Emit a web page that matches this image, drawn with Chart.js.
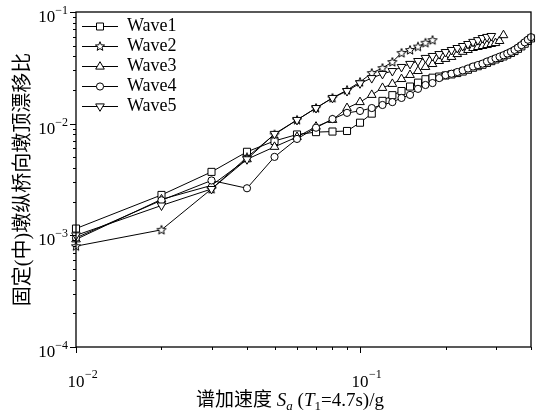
<!DOCTYPE html>
<html>
<head>
<meta charset="utf-8">
<script src="https://cdn.jsdelivr.net/npm/chart.js@4.4.1/dist/chart.umd.min.js"></script>
<style>
  html, body { margin: 0; padding: 0; background: #fff; }
</style>
</head>
<body>
<canvas id="chart" width="537" height="416"></canvas>
<script>
// Sa values (g) shared by all records
const saValues = [0.01, 0.02, 0.03, 0.04, 0.05, 0.06, 0.07, 0.08, 0.09, 0.10,
                  0.11, 0.12, 0.13, 0.14, 0.15, 0.16, 0.17, 0.18, 0.19, 0.20,
                  0.21, 0.22, 0.23, 0.24, 0.25, 0.26, 0.27, 0.28, 0.29, 0.30,
                  0.31, 0.32, 0.33, 0.34, 0.35, 0.36, 0.37, 0.38, 0.39, 0.40];

// drift ratio per record
const wave1 = [1.15e-3, 2.3e-3, 3.7e-3, 5.6e-3, 7.0e-3, 8.0e-3, 8.4e-3, 8.5e-3, 8.6e-3, 1.02e-2,
               1.23e-2, 1.6e-2, 1.8e-2, 1.96e-2, 2.15e-2, 2.33e-2, 2.5e-2, 2.58e-2, 2.64e-2, 2.7e-2,
               2.76e-2, 2.84e-2, 2.93e-2, 3.04e-2, 3.17e-2, 3.27e-2, 3.37e-2, 3.5e-2, 3.63e-2, 3.76e-2,
               3.88e-2, 4.0e-2, 4.15e-2, 4.3e-2, 4.47e-2, 4.68e-2, 4.92e-2, 5.2e-2, 5.5e-2, 5.8e-2];
const wave2 = [0.8e-3, 1.12e-3, 2.6e-3, 5.0e-3, 8.0e-3, 1.08e-2, 1.38e-2, 1.7e-2, 2.0e-2, 2.36e-2,
               2.84e-2, 3.15e-2, 3.57e-2, 4.3e-2, 4.57e-2, 4.9e-2, 5.3e-2, 5.6e-2];
const wave3 = [0.92e-3, 2.1e-3, 2.8e-3, 4.8e-3, 6.2e-3, 7.6e-3, 9.4e-3, 1.08e-2, 1.38e-2, 1.56e-2,
               1.81e-2, 2.09e-2, 2.27e-2, 2.51e-2, 2.73e-2, 2.96e-2, 3.22e-2, 3.42e-2, 3.64e-2, 3.8e-2,
               3.96e-2, 4.2e-2, 4.4e-2, 4.57e-2, 4.76e-2, 4.86e-2, 4.96e-2, 5.06e-2, 5.17e-2, 5.27e-2,
               5.5e-2, 6.2e-2];
const wave4 = [0.95e-3, 2.06e-3, 3.1e-3, 2.64e-3, 5.04e-3, 7.3e-3, 9.2e-3, 1.1e-2, 1.25e-2, 1.3e-2,
               1.38e-2, 1.47e-2, 1.56e-2, 1.7e-2, 1.81e-2, 2.05e-2, 2.22e-2, 2.31e-2, 2.56e-2, 2.72e-2,
               2.8e-2, 2.9e-2, 3.0e-2, 3.12e-2, 3.25e-2, 3.35e-2, 3.45e-2, 3.6e-2, 3.72e-2, 3.85e-2,
               3.98e-2, 4.1e-2, 4.25e-2, 4.4e-2, 4.58e-2, 4.8e-2, 5.05e-2, 5.35e-2, 5.65e-2, 5.95e-2];
const wave5 = [1.0e-3, 1.85e-3, 2.6e-3, 4.8e-3, 8.1e-3, 1.08e-2, 1.38e-2, 1.7e-2, 1.96e-2, 2.3e-2,
               2.56e-2, 2.79e-2, 2.96e-2, 3.22e-2, 3.43e-2, 3.64e-2, 3.88e-2, 4.04e-2, 4.2e-2, 4.38e-2,
               4.57e-2, 4.76e-2, 4.96e-2, 5.17e-2, 5.4e-2, 5.6e-2, 5.85e-2, 5.98e-2, 6.1e-2];

const seriesNames = ['Wave1', 'Wave2', 'Wave3', 'Wave4', 'Wave5'];
const seriesMarkers = ['square', 'star', 'triangle', 'circle', 'triangleDown'];

// decade tick labels (10 with exponent)
const xDecades = [0.01, 0.1];
const xDecadeExps = ['\u22122', '\u22121'];
const yDecades = [1e-4, 1e-3, 1e-2, 1e-1];
const yDecadeExps = ['\u22124', '\u22123', '\u22122', '\u22121'];

const yTitle = '固定(中)墩纵桥向墩顶漂移比';
const xTitleCn = '谱加速度 ';

const SERIF = '"Liberation Serif", "Times New Roman", serif';
const CJK = '"Liberation Serif", "Noto Sans CJK SC", sans-serif';

function drawMarker(ctx, kind, cx, cy) {
    ctx.beginPath();
    if (kind === 'square') {
        ctx.rect(cx - 3.5, cy - 3.5, 7, 7);
    } else if (kind === 'circle') {
        ctx.arc(cx, cy, 3.6, 0, Math.PI * 2);
    } else if (kind === 'triangle') {
        ctx.moveTo(cx, cy - 4.8);
        ctx.lineTo(cx + 4.3, cy + 2.6);
        ctx.lineTo(cx - 4.3, cy + 2.6);
        ctx.closePath();
    } else if (kind === 'triangleDown') {
        ctx.moveTo(cx, cy + 4.8);
        ctx.lineTo(cx + 4.3, cy - 2.6);
        ctx.lineTo(cx - 4.3, cy - 2.6);
        ctx.closePath();
    } else if (kind === 'star') {
        for (let i = 0; i < 10; i++) {
            const r = i % 2 === 0 ? 4.8 : 2.1;
            const ang = -Math.PI / 2 + i * Math.PI / 5;
            const px = cx + r * Math.cos(ang);
            const py = cy + r * Math.sin(ang);
            if (i === 0) ctx.moveTo(px, py); else ctx.lineTo(px, py);
        }
        ctx.closePath();
    }
    ctx.fillStyle = '#fff';
    ctx.fill();
    ctx.strokeStyle = '#000';
    ctx.lineWidth = 1;
    ctx.stroke();
}

function makeStar() {
    const c = document.createElement('canvas');
    c.width = 12;
    c.height = 12;
    drawMarker(c.getContext('2d'), 'star', 6, 6.3);
    return c;
}

function makeLegendIcon(kind) {
    const c = document.createElement('canvas');
    c.width = 40;
    c.height = 14;
    const g = c.getContext('2d');
    g.strokeStyle = '#000';
    g.lineWidth = 1;
    g.beginPath();
    g.moveTo(4, 7.5);
    g.lineTo(40, 7.5);
    g.stroke();
    drawMarker(g, kind, 22, 7.5);
    return c;
}

// Chart.js point styles for each marker kind
const pointStyles = {
    square: { style: 'rect', radius: 5, rotation: 0 },
    circle: { style: 'circle', radius: 3.6, rotation: 0 },
    triangle: { style: 'triangle', radius: 5, rotation: 0 },
    triangleDown: { style: 'triangle', radius: 5, rotation: 180 },
    star: { style: makeStar(), radius: 5, rotation: 0 },
};

const allWaves = [wave1, wave2, wave3, wave4, wave5];
const legendIcons = seriesMarkers.map(makeLegendIcon);

const datasets = allWaves.map((vals, i) => {
    const ps = pointStyles[seriesMarkers[i]];
    return {
        label: seriesNames[i],
        data: vals.map((v, j) => ({ x: saValues[j], y: v })),
        borderColor: '#000',
        borderWidth: 1,
        backgroundColor: '#fff',
        pointBackgroundColor: '#fff',
        pointBorderColor: '#000',
        pointBorderWidth: 1,
        pointStyle: ps.style,
        pointRadius: ps.radius,
        pointRotation: ps.rotation,
        tension: 0,
        clip: false,
        order: 5 - i,
    };
});

// axes box, outward ticks, decade labels and titles
const axesDecor = {
    id: 'axesDecor',
    afterDraw(chart) {
        const { ctx, chartArea: a, scales: { x, y } } = chart;
        ctx.save();
        ctx.strokeStyle = '#000';
        ctx.lineWidth = 1.3;
        ctx.strokeRect(a.left, a.top, a.right - a.left, a.bottom - a.top);

        ctx.lineWidth = 1;
        ctx.beginPath();
        for (let e = -4; e <= -1; e++) {
            for (let k = 1; k <= 9; k++) {
                const v = k * Math.pow(10, e);
                if (v > y.max * 1.0001) break;
                const py = Math.round(y.getPixelForValue(v)) + 0.5;
                const len = k === 1 ? 6 : 3;
                ctx.moveTo(a.left - len, py);
                ctx.lineTo(a.left, py);
            }
        }
        for (let e = -2; e <= -1; e++) {
            for (let k = 1; k <= 9; k++) {
                const v = k * Math.pow(10, e);
                if (v > x.max * 1.0001) break;
                const px = Math.round(x.getPixelForValue(v)) + 0.5;
                const len = k === 1 ? 6 : 3;
                ctx.moveTo(px, a.bottom);
                ctx.lineTo(px, a.bottom + len);
            }
        }
        ctx.stroke();

        ctx.fillStyle = '#000';
        ctx.textBaseline = 'alphabetic';
        yDecades.forEach((v, i) => {
            const py = y.getPixelForValue(v);
            ctx.font = '12px ' + SERIF;
            const ew = ctx.measureText(yDecadeExps[i]).width;
            const ex = a.left - 8 - ew;
            ctx.textAlign = 'left';
            ctx.fillText(yDecadeExps[i], ex, py + 2);
            ctx.font = '17px ' + SERIF;
            ctx.textAlign = 'right';
            ctx.fillText('10', ex, py + 10);
        });
        xDecades.forEach((v, i) => {
            const px = x.getPixelForValue(v);
            ctx.font = '17px ' + SERIF;
            ctx.textAlign = 'center';
            ctx.fillText('10', px, a.bottom + 40);
            ctx.font = '12px ' + SERIF;
            ctx.textAlign = 'left';
            ctx.fillText(xDecadeExps[i], px + 9, a.bottom + 31);
        });

        // x title: 谱加速度 Sa (T1=4.7s)/g
        const parts = [
            { t: xTitleCn, f: '19px ' + CJK, dy: 0 },
            { t: 'S', f: 'italic 19px ' + SERIF, dy: 0 },
            { t: 'a', f: 'italic 13px ' + SERIF, dy: 4 },
            { t: ' (', f: '19px ' + SERIF, dy: 0 },
            { t: 'T', f: 'italic 19px ' + SERIF, dy: 0 },
            { t: '1', f: '13px ' + SERIF, dy: 4 },
            { t: '=4.7s)/g', f: '19px ' + SERIF, dy: 0 },
        ];
        let total = 0;
        parts.forEach(p => { ctx.font = p.f; p.w = ctx.measureText(p.t).width; total += p.w; });
        let cx = 290 - total / 2;
        ctx.textAlign = 'left';
        parts.forEach(p => {
            ctx.font = p.f;
            ctx.fillText(p.t, cx, 406 + p.dy);
            cx += p.w;
        });

        // y title
        ctx.save();
        ctx.translate(29, (a.top + a.bottom) / 2);
        ctx.rotate(-Math.PI / 2);
        ctx.font = '20px ' + CJK;
        ctx.textAlign = 'center';
        ctx.fillText(yTitle, 0, 0);
        ctx.restore();

        ctx.restore();
    }
};

new Chart(document.getElementById('chart'), {
    type: 'line',
    data: { datasets: datasets },
    plugins: [axesDecor],
    options: {
        responsive: false,
        animation: false,
        devicePixelRatio: 1,
        layout: { padding: { left: 76, right: 3, top: 12, bottom: 69 } },
        scales: {
            x: {
                type: 'logarithmic',
                min: 0.01,
                max: 0.4,
                ticks: { display: false },
                grid: { drawOnChartArea: false, drawTicks: false },
                border: { display: false },
            },
            y: {
                type: 'logarithmic',
                min: 1e-4,
                max: 1e-1,
                ticks: { display: false },
                grid: { drawOnChartArea: false, drawTicks: false },
                border: { display: false },
            },
        },
        plugins: {
            tooltip: { enabled: false },
            legend: {
                position: 'chartArea',
                align: 'start',
                // empty title only pushes the entries down from the frame
                title: { display: true, text: ' ', padding: 0, color: '#000', font: { size: 12.5 } },
                labels: {
                    usePointStyle: true,
                    pointStyleWidth: 40,
                    padding: 2,
                    color: '#000',
                    font: { family: SERIF, size: 18 },
                    generateLabels: chart => chart.data.datasets.map((ds, i) => ({
                        text: ds.label,
                        fontColor: '#000',
                        pointStyle: legendIcons[i],
                        fillStyle: '#fff',
                        strokeStyle: '#000',
                        lineWidth: 1,
                        hidden: false,
                        datasetIndex: i,
                    })),
                },
            },
        },
    },
});
</script>
</body>
</html>
